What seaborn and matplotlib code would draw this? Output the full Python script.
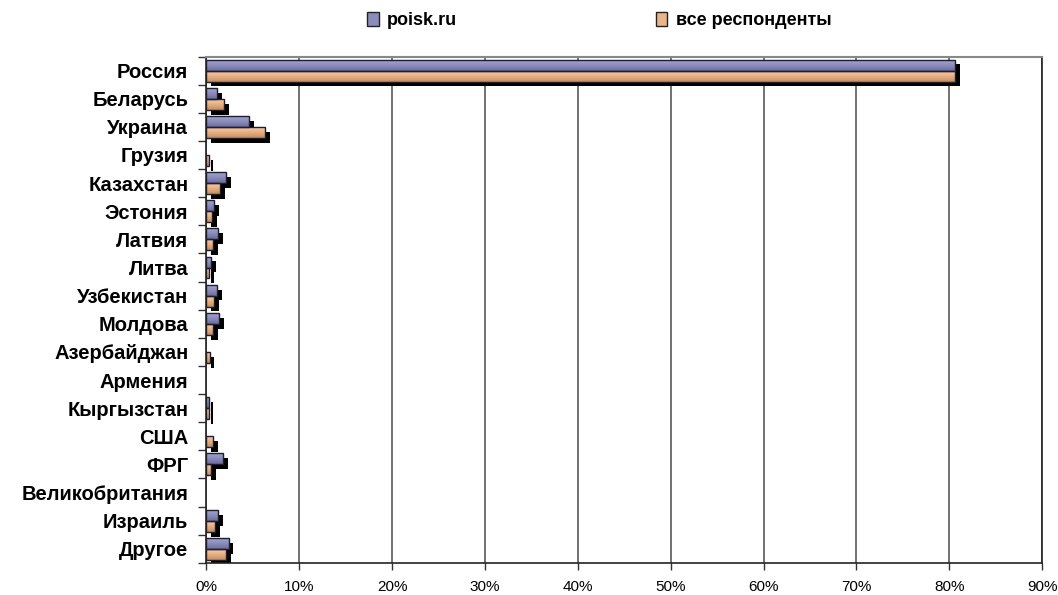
import numpy as np
import pandas as pd
import seaborn as sns
import matplotlib.pyplot as plt
import matplotlib.patheffects as pe
from matplotlib.patches import Patch, Rectangle
from matplotlib.colors import LinearSegmentedColormap
from matplotlib.ticker import PercentFormatter, FixedLocator

countries = ["Россия", "Беларусь", "Украина", "Грузия", "Казахстан", "Эстония",
             "Латвия", "Литва", "Узбекистан", "Молдова", "Азербайджан", "Армения",
             "Кыргызстан", "США", "ФРГ", "Великобритания", "Израиль", "Другое"]
poisk = [80.6, 1.15, 4.6, 0.0, 2.1, 0.8, 1.3, 0.55, 1.15, 1.35, 0.0, 0.0,
         0.25, 0.0, 1.8, 0.0, 1.3, 2.4]
all_resp = [80.6, 1.9, 6.3, 0.25, 1.5, 0.65, 0.7, 0.3, 0.8, 0.7, 0.35, 0.0,
            0.25, 0.7, 0.55, 0.0, 0.9, 2.15]
series = ["poisk.ru", "все респонденты"]
colors = ["#8C8CBC", "#EBB58A"]
grads = [["#A4A4CE", "#9494C4", "#8282B2", "#6C6C9C"],
         ["#F6CCA6", "#EDB88C", "#DCA478", "#C08C62"]]

df = pd.DataFrame({
    "country": countries * 2,
    "value": poisk + all_resp,
    "series": [series[0]] * len(countries) + [series[1]] * len(countries),
})

sns.set_style("white")
plt.rcParams['font.family'] = ['Liberation Sans', 'DejaVu Sans']
plt.rcParams['text.color'] = 'black'
plt.rcParams['xtick.color'] = 'black'
plt.rcParams['ytick.color'] = 'black'

fig = plt.figure(figsize=(10.58, 5.95), dpi=100)
ax = fig.add_axes([0.195, 0.054, 0.79, 0.851])

sns.barplot(data=df, y="country", x="value", hue="series", order=countries,
            hue_order=series, palette=colors, orient="h", width=0.78,
            dodge=True, ax=ax, legend=False)

ax.set_xlim(0, 90)
ax.set_ylim(len(countries) - 0.5, -0.5)

# gradient fill + outline + drop shadow, following each bar drawn by seaborn
n = len(countries)
for k, p in enumerate(list(ax.patches)):
    s = k // n
    p.set_edgecolor("none")
    p.set_path_effects([pe.SimplePatchShadow(offset=(3.5, -3.5), shadow_rgbFace="black", alpha=1.0),
                        pe.Normal()])
    x0, y0, w, h = p.get_x(), p.get_y(), p.get_width(), p.get_height()
    if w <= 0:
        continue
    cmap = LinearSegmentedColormap.from_list("g%d" % s, grads[s])
    im = ax.imshow(np.linspace(0, 1, 32).reshape(-1, 1), cmap=cmap, aspect="auto",
                   extent=(x0, x0 + w, y0 + h, y0), origin="upper", zorder=p.get_zorder() + 0.1,
                   interpolation="bilinear")
    im.set_clip_path(p)
    ax.add_patch(Rectangle((x0, y0), w, h, fill=False, edgecolor="#1E1E2E",
                           linewidth=1.0, zorder=p.get_zorder() + 0.2))

ax.set_xlim(0, 90)
ax.set_ylim(len(countries) - 0.5, -0.5)
ax.xaxis.set_major_locator(FixedLocator(range(0, 91, 10)))
ax.xaxis.set_major_formatter(PercentFormatter(decimals=0))
ax.grid(axis="x", color="#4A4A4A", linewidth=1.1)
ax.set_axisbelow(True)
ax.set_xlabel("")
ax.set_ylabel("")

# y ticks at category boundaries, labels at centers
ax.set_yticks([i + 0.5 for i in range(-1, len(countries))], minor=False)
ax.set_yticklabels([])
ax.set_yticks(range(len(countries)), minor=True)
ax.set_yticklabels(countries, minor=True, fontsize=14.5, fontweight="bold")
ax.tick_params(axis="y", which="major", length=6, width=1, color="#333333", direction="out", left=True)
ax.tick_params(axis="y", which="minor", length=0, pad=13)
ax.tick_params(axis="x", length=5, width=1, color="#333333", direction="out", bottom=True,
               labelsize=11, pad=7)

for side in ["left", "bottom", "right"]:
    ax.spines[side].set_color("#222222")
    ax.spines[side].set_linewidth(1.2)
ax.spines["top"].set_color("#888888")
ax.spines["top"].set_linewidth(1.5)

handles = [Patch(facecolor=c, edgecolor="#222222", linewidth=1.0) for c in colors]
fig.legend(handles, series, loc="center left", bbox_to_anchor=(0.347, 0.965), ncol=2,
           frameon=False, columnspacing=11.0, handlelength=0.65, handleheight=0.75,
           handletextpad=0.45, borderaxespad=0, borderpad=0,
           prop={"weight": "bold", "size": 13})

fig.savefig("out.png", dpi=100)
